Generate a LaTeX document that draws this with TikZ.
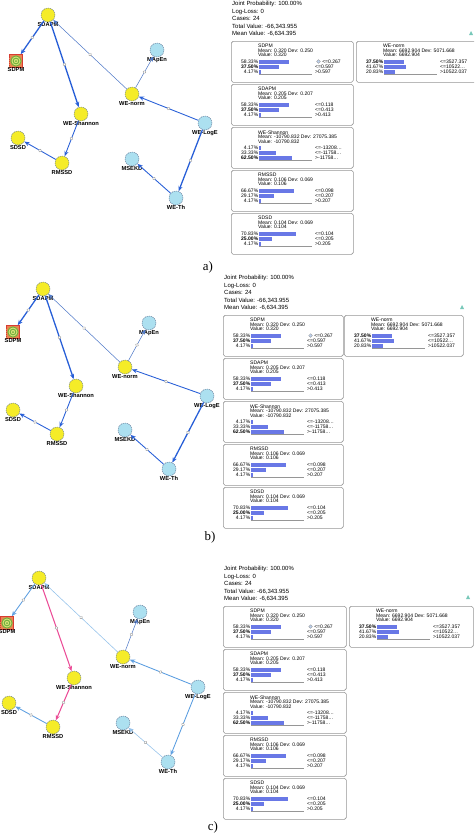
\documentclass[tikz,border=0pt]{standalone}
\usepackage{fontspec}
\setmainfont{Liberation Sans}
\newfontfamily\capfont{Liberation Serif}
\usetikzlibrary{positioning,arrows.meta,calc,decorations.markings}
\definecolor{NodeYellow}{RGB}{245,236,40}
\definecolor{NodeBlue}{RGB}{172,224,240}
\definecolor{NodeEdge}{RGB}{100,120,150}
\definecolor{EdgeBlue}{RGB}{40,95,215}
\definecolor{EdgeThin}{RGB}{80,122,200}
\definecolor{EdgeLight}{RGB}{95,160,225}
\definecolor{EdgePale}{RGB}{150,195,235}
\definecolor{EdgePink}{RGB}{235,75,150}
\definecolor{MarkGray}{RGB}{150,150,150}
\definecolor{BarBlue}{RGB}{105,120,230}
\definecolor{BoxGray}{RGB}{150,150,150}
\definecolor{IconBlue}{RGB}{190,210,240}
\definecolor{IconOrange}{RGB}{235,130,80}
\definecolor{IconRed}{RGB}{215,60,50}
\definecolor{IconGreen}{RGB}{110,175,60}
\definecolor{IconYellow}{RGB}{215,225,120}
\definecolor{Teal}{RGB}{120,200,185}
\lineskiplimit=-5pt

\newcommand{\txtSDPM}{SDPM\\Mean: 0.320 Dev: 0.250\\Value: 0.320}
\newcommand{\rowsSDPM}{58.33/{58.33\%}/{\kern6pt<=0.267}, 37.50/{\textbf{37.50\%}}/{<=0.597}, 4.17/{4.17\%}/{>0.597}}
\newcommand{\txtSDAPM}{SDAPM\\Mean: 0.205 Dev: 0.207\\Value: 0.205}
\newcommand{\rowsSDAPM}{58.33/{58.33\%}/{<=0.118}, 37.50/{\textbf{37.50\%}}/{<=0.413}, 4.17/{4.17\%}/{>0.413}}
\newcommand{\txtWEShannon}{WE-Shannon\\Mean: -10790.832 Dev: 27075.385\\Value: -10790.832}
\newcommand{\rowsWEShannon}{4.17/{4.17\%}/{<=-13208\dots}, 33.33/{33.33\%}/{<=-11758\dots}, 62.50/{\textbf{62.50\%}}/{>-11758\dots}}
\newcommand{\txtRMSSD}{RMSSD\\Mean: 0.106 Dev: 0.069\\Value: 0.106}
\newcommand{\rowsRMSSD}{66.67/{66.67\%}/{<=0.098}, 29.17/{29.17\%}/{<=0.207}, 4.17/{4.17\%}/{>0.207}}
\newcommand{\txtSDSD}{SDSD\\Mean: 0.104 Dev: 0.069\\Value: 0.104}
\newcommand{\rowsSDSD}{70.83/{70.83\%}/{<=0.104}, 25.00/{\textbf{25.00\%}}/{<=0.205}, 4.17/{4.17\%}/{>0.205}}
\newcommand{\txtWEnorm}{WE-norm\\Mean: 6692.904 Dev: 5071.668\\Value: 6692.904}
\newcommand{\rowsWEnorm}{37.50/{\textbf{37.50\%}}/{<=3527.357}, 41.67/{41.67\%}/{<=10522\dots}, 20.83/{20.83\%}/{>10522.037}}

\newcommand{\monitor}[6]{%
  \node[monbox, minimum width=#4*0.03cm, anchor=north west] (#1) at (#2,#3) {};
  \node[montext, anchor=north west] (#1-txt) at ($(#1.north west)+(27,3.2)$) {#5};
  \draw[monaxis] ($(#1.north west)+(28,33.3)$) -- ++(53,0);
  \foreach \vpct/\vtxt/\vstate [count=\i] in #6 {
    \fill[BarBlue] ($(#1.north west)+(28,13.2+5.3*\i)$) rectangle ++(0.52*\vpct,4);
    \node[montext, anchor=east] (#1-p\i) at ($(#1.north west)+(27.5,15.2+5.3*\i)$) {\vtxt};
    \node[montext, anchor=west] (#1-s\i) at ($(#1.north west)+(84,15.2+5.3*\i)$) {\vstate};
  }
}
\newcommand{\monpanel}[6]{%
  \node[hdr, anchor=north west] (#1-hdr) at (#2+1,#3-40)
    {Joint Probability: 100.00\%\\Log-Loss: 0\\Cases: 24\\Total Value: -66,343.955\\Mean Value: -6,634.395};
  \monitor{#1-sdpm}{#2}{#3}{#4}{\txtSDPM}{\rowsSDPM}
  \monitor{#1-wenorm}{#5}{#3}{#6}{\txtWEnorm}{\rowsWEnorm}
  \monitor{#1-sdapm}{#2}{#3+43}{#4}{\txtSDAPM}{\rowsSDAPM}
  \monitor{#1-weshannon}{#2}{#3+86}{#4}{\txtWEShannon}{\rowsWEShannon}
  \monitor{#1-rmssd}{#2}{#3+129}{#4}{\txtRMSSD}{\rowsRMSSD}
  \monitor{#1-sdsd}{#2}{#3+172}{#4}{\txtSDSD}{\rowsSDSD}
  \draw[fill=IconBlue, draw=BoxGray, line width=0.3pt] ($(#1-sdpm.north west)+(87.5,20.5)$) circle (1.5pt);
}

\begin{document}
\begin{tikzpicture}[x=0.03cm, y=-0.03cm,
  every label/.style={font=\fontsize{4.9}{5}\selectfont\bfseries, inner sep=0},
  ynode/.style={circle, draw=NodeEdge, dash pattern=on 1pt off 0.7pt, line width=0.4pt,
    fill=NodeYellow, minimum size=0.42cm, inner sep=0, label distance=1.2mm},
  bnode/.style={ynode, fill=NodeBlue},
  sdpmnode/.style={rectangle, draw=IconRed, dash pattern=on 1pt off 0.7pt, fill=IconOrange,
    minimum size=0.39cm, inner sep=0, label distance=1mm,
    path picture={
      \foreach \rr/\cc in {0.17/IconGreen, 0.135/IconYellow, 0.1/IconGreen, 0.065/IconYellow, 0.03/IconGreen}
        \fill[\cc] (path picture bounding box.center) circle (\rr cm);}},
  arr/.style={-{Stealth[length=4.5pt,width=3.6pt]}, postaction={decorate},
    decoration={markings, mark=at position 0.5 with
      {\draw[-, solid, fill=white, draw=MarkGray, line width=0.3pt] (0,0) circle (1.3pt);}}},
  thickarr/.style={arr, line width=1.1pt, EdgeBlue},
  midarr/.style={arr, line width=0.75pt, EdgeBlue},
  thinarr/.style={arr, line width=0.45pt, EdgeThin},
  lightarr/.style={arr, line width=0.75pt, EdgeLight},
  palearr/.style={arr, line width=0.5pt, EdgePale},
  pinkarr/.style={arr, line width=0.9pt, EdgePink},
  monbox/.style={draw=BoxGray, rounded corners=1.5pt, fill=white, line width=0.5pt,
    minimum height=1.23cm, inner sep=0},
  montext/.style={font=\fontsize{4.3}{3.85}\selectfont, inner sep=0, align=left},
  monaxis/.style={draw=BoxGray, line width=0.4pt},
  hdr/.style={font=\fontsize{5.1}{6.4}\selectfont, inner sep=0, align=left},
  caplbl/.style={font=\capfont\fontsize{11}{12}\selectfont, inner sep=0}]
  \useasboundingbox (0,0) rectangle (474,839);
  \clip (0,0) rectangle (474,839);

  % a)
  \node[ynode, label=below:SDAPM] (a-sdapm) at (48,15) {};
  \node[sdpmnode, label=below:SDPM] (a-sdpm) at (16,61) {};
  \node[ynode, label=below:WE-Shannon] (a-weshannon) at (81,114) {};
  \node[ynode, label=below:SDSD] (a-sdsd) at (18,138) {};
  \node[ynode, label=below:RMSSD] (a-rmssd) at (62,163) {};
  \node[bnode, label=below:MApEn] (a-mapen) at (157,50) {};
  \node[ynode, label=below:WE-norm] (a-wenorm) at (132,94) {};
  \node[bnode, label=below:WE-LogE] (a-weloge) at (205,123) {};
  \node[bnode, label=below:MSEKD] (a-msekd) at (132,159) {};
  \node[bnode, label=below:WE-Th] (a-weth) at (176,198) {};
  \draw[thickarr] (a-sdapm) -- (a-sdpm);
  \draw[thickarr] (a-sdapm) -- (a-weshannon);
  \draw[thinarr] (a-wenorm) -- (a-sdapm);
  \draw[thinarr] (a-wenorm) -- (a-mapen);
  \draw[midarr] (a-weloge) -- (a-wenorm);
  \draw[thickarr] (a-weloge) -- (a-weth);
  \draw[midarr] (a-weth) -- (a-msekd);
  \draw[midarr] (a-weshannon) -- (a-rmssd);
  \draw[midarr] (a-rmssd) -- (a-sdsd);
  \monpanel{ma}{231}{41}{122}{356}{122}
  \fill[Teal] (469,35) -- (473,35) -- (471,31) -- cycle;
  \node[caplbl] (lab-a) at (208,267) {a)};

  % b)
  \node[ynode, label=below:SDAPM] (b-sdapm) at (43,289) {};
  \node[sdpmnode, label=below:SDPM] (b-sdpm) at (13,332) {};
  \node[ynode, label=below:WE-Shannon] (b-weshannon) at (76,386) {};
  \node[ynode, label=below:SDSD] (b-sdsd) at (13,410) {};
  \node[ynode, label=below:RMSSD] (b-rmssd) at (57,434) {};
  \node[bnode, label=below:MApEn] (b-mapen) at (149,323) {};
  \node[ynode, label=below:WE-norm] (b-wenorm) at (125,367) {};
  \node[bnode, label=below:WE-LogE] (b-weloge) at (207,396) {};
  \node[bnode, label=below:MSEKD] (b-msekd) at (125,430) {};
  \node[bnode, label=below:WE-Th] (b-weth) at (169,469) {};
  \draw[thickarr] (b-sdapm) -- (b-sdpm);
  \draw[thickarr] (b-sdapm) -- (b-weshannon);
  \draw[thinarr] (b-wenorm) -- (b-sdapm);
  \draw[thinarr] (b-wenorm) -- (b-mapen);
  \draw[midarr] (b-weloge) -- (b-wenorm);
  \draw[thickarr] (b-weloge) -- (b-weth);
  \draw[midarr] (b-weth) -- (b-msekd);
  \draw[midarr] (b-weshannon) -- (b-rmssd);
  \draw[midarr] (b-rmssd) -- (b-sdsd);
  \monpanel{mb}{223}{315}{120}{344}{119}
  \fill[Teal] (460,309) -- (464,309) -- (462,305) -- cycle;
  \node[caplbl] (lab-b) at (210,537) {b)};

  % c)
  \node[ynode, label=below:SDAPM] (c-sdapm) at (39,578) {};
  \node[sdpmnode, label=below:SDPM] (c-sdpm) at (7,623) {};
  \node[ynode, label=below:WE-Shannon] (c-weshannon) at (74,678) {};
  \node[ynode, label=below:SDSD] (c-sdsd) at (9,703) {};
  \node[ynode, label=below:RMSSD] (c-rmssd) at (53,727) {};
  \node[bnode, label=below:MApEn] (c-mapen) at (140,612) {};
  \node[ynode, label=below:WE-norm] (c-wenorm) at (123,657) {};
  \node[bnode, label=below:WE-LogE] (c-weloge) at (198,687) {};
  \node[bnode, label=below:MSEKD] (c-msekd) at (123,723) {};
  \node[bnode, label=below:WE-Th] (c-weth) at (168,762) {};
  \draw[lightarr] (c-sdapm) -- (c-sdpm);
  \draw[pinkarr] (c-sdapm) -- (c-weshannon);
  \draw[palearr] (c-wenorm) -- (c-sdapm);
  \draw[thinarr] (c-wenorm) -- (c-mapen);
  \draw[lightarr] (c-weloge) -- (c-wenorm);
  \draw[lightarr] (c-weloge) -- (c-weth);
  \draw[palearr] (c-weth) -- (c-msekd);
  \draw[pinkarr] (c-weshannon) -- (c-rmssd);
  \draw[lightarr] (c-rmssd) -- (c-sdsd);
  \monpanel{mc}{223}{606}{123}{349}{124}
  \fill[Teal] (466,599) -- (470,599) -- (468,595) -- cycle;
  \node[caplbl] (lab-c) at (213,827) {c)};
\end{tikzpicture}
\end{document}
